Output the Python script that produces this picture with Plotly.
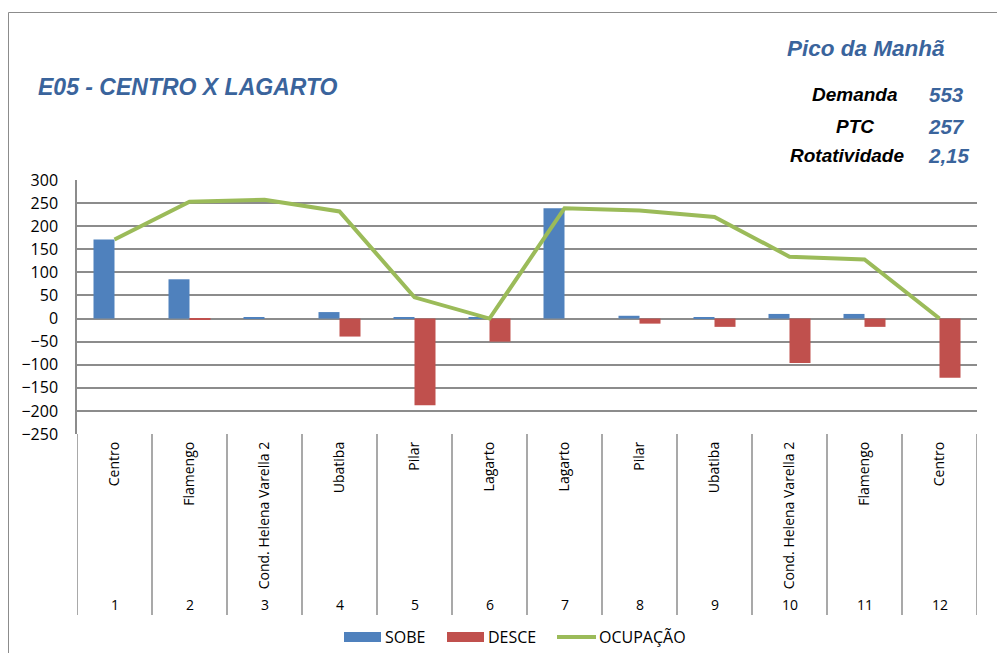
import plotly.graph_objects as go

stops = ["Centro", "Flamengo", "Cond. Helena Varella 2", "Ubatiba", "Pilar", "Lagarto",
         "Lagarto", "Pilar", "Ubatiba", "Cond. Helena Varella 2", "Flamengo", "Centro"]
seq = list(range(1, 13))
sobe = [171, 85, 3, 14, 2, 3, 239, 6, 2, 10, 10, 0]
desce = [0, -3, 0, -39, -188, -50, 0, -11, -18, -96, -18, -128]
ocupacao = [171, 253, 257, 232, 46, 0, 239, 234, 220, 134, 128, 0]
y_ticks = [300, 250, 200, 150, 100, 50, 0, -50, -100, -150, -200, -250]

title_txt = "E05 - CENTRO X LAGARTO"
period_txt = "Pico da Manhã"
stats_labels = ["Demanda", "PTC", "Rotatividade"]
stats_values = ["553", "257", "2,15"]

BLUE = "#4f81bd"
RED = "#c0504d"
GREEN = "#9bbb59"
TXT_BLUE = "#3a649c"
GRID = "#8c8c8c"
FONT = "Open Sans"

# the page body adds an 8px margin: work in reference pixels minus that offset
O = 8
L, R, T, B = 77 - O, 977 - O, 180 - O, 434 - O
W, H = 1005 - O, 653 - O


def px(xp):
    return (xp - O - L) / (R - L)


def py(yp):
    return (B - (yp - O)) / (B - T)


fig = go.Figure()
fig.add_trace(go.Bar(x=seq, y=sobe, name="SOBE", marker=dict(color=BLUE, line=dict(width=0)),
                     showlegend=False))
fig.add_trace(go.Bar(x=seq, y=desce, name="DESCE", marker=dict(color=RED, line=dict(width=0)),
                     showlegend=False))
fig.add_trace(go.Scatter(x=seq, y=ocupacao, name="OCUPAÇÃO", mode="lines",
                         line=dict(color=GREEN, width=4), showlegend=False))

shapes = []
# category box separators below the plot
for i in range(13):
    shapes.append(dict(type="line", xref="x", yref="paper", x0=0.5 + i, x1=0.5 + i,
                       y0=py(615), y1=0, line=dict(color=GRID, width=1.5), layer="below"))
# outer frame
shapes.append(dict(type="rect", xref="paper", yref="paper", x0=px(8.5), x1=px(1015),
                   y0=py(665), y1=py(12.5), line=dict(color=GRID, width=1)))
# custom legend
shapes.append(dict(type="rect", xref="paper", yref="paper", x0=px(344), x1=px(381),
                   y0=py(642), y1=py(632), fillcolor=BLUE, line=dict(width=0)))
shapes.append(dict(type="rect", xref="paper", yref="paper", x0=px(447), x1=px(484),
                   y0=py(642), y1=py(632), fillcolor=RED, line=dict(width=0)))
shapes.append(dict(type="line", xref="paper", yref="paper", x0=px(557), x1=px(596),
                   y0=py(637), y1=py(637), line=dict(color=GREEN, width=4)))

ann = []
ann.append(dict(text=title_txt, xref="paper", yref="paper", x=px(36), y=py(87),
                xanchor="left", yanchor="middle", showarrow=False,
                font=dict(family="Liberation Sans", size=23, color=TXT_BLUE, weight="bold", style="italic")))
ann.append(dict(text=period_txt, xref="paper", yref="paper", x=px(866), y=py(48),
                xanchor="center", yanchor="middle", showarrow=False,
                font=dict(family="Liberation Sans", size=22.5, color=TXT_BLUE, weight="bold", style="italic")))
lab_x = [854.5, 855, 846.5]
val_x = [946.5, 946.5, 948.5]
row_y = [95, 127, 155]
for lab, val, lx, vx, ry in zip(stats_labels, stats_values, lab_x, val_x, row_y):
    ann.append(dict(text=lab, xref="paper", yref="paper", x=px(lx), y=py(ry),
                    xanchor="center", yanchor="middle", showarrow=False,
                    font=dict(family="Liberation Sans", size=19, color="black", weight="bold", style="italic")))
    ann.append(dict(text=val, xref="paper", yref="paper", x=px(vx), y=py(ry),
                    xanchor="center", yanchor="middle", showarrow=False,
                    font=dict(family="Liberation Sans", size=20.5, color=TXT_BLUE, weight="bold", style="italic")))
for s in seq:
    ann.append(dict(text=str(s), xref="x", yref="paper", x=s, y=py(604),
                    xanchor="center", yanchor="middle", showarrow=False,
                    font=dict(family=FONT, size=14, color="black")))
for txt, lx in [("SOBE", 383), ("DESCE", 486), ("OCUPAÇÃO", 597)]:
    ann.append(dict(text=txt, xref="paper", yref="paper", x=px(lx), y=py(637),
                    xanchor="left", yanchor="middle", showarrow=False,
                    font=dict(family=FONT, size=16, color="black")))

fig.update_layout(
    width=W, height=H,
    margin=dict(l=L, r=W - R, t=T, b=H - B),
    paper_bgcolor="white", plot_bgcolor="white",
    barmode="group", bargap=0.44, bargroupgap=0,
    shapes=shapes, annotations=ann,
    showlegend=False,
    xaxis=dict(range=[0.5, 12.5], tickvals=seq, ticktext=stops, tickangle=-90,
               showgrid=False, zeroline=False, showline=False, ticks="",
               ticklabelstandoff=4,
               tickfont=dict(family=FONT, size=14, color="black"), fixedrange=True),
    yaxis=dict(range=[-250, 300], tickvals=y_ticks, showgrid=True, gridcolor=GRID,
               gridwidth=1.5, zeroline=False, showline=True, linecolor=GRID, linewidth=1.5,
               ticks="", ticklabelstandoff=14,
               tickfont=dict(family=FONT, size=16, color="black"), fixedrange=True),
)

fig.write_html("out.html")
